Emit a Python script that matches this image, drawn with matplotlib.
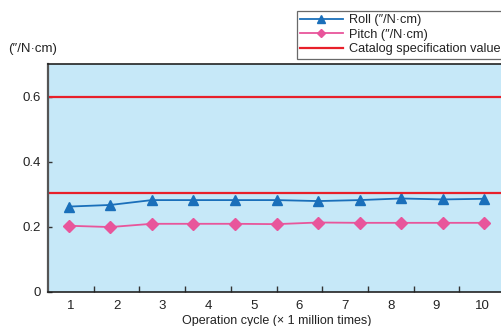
import matplotlib.pyplot as plt
import numpy as np

plt.rcParams['font.family'] = ['Liberation Sans', 'DejaVu Sans']

cycle_labels = ['1', '2', '3', '4', '5', '6', '7', '8', '9', '10']
roll = [0.262, 0.267, 0.282, 0.282, 0.282, 0.282, 0.279, 0.282, 0.287, 0.284, 0.286]
pitch = [0.203, 0.199, 0.209, 0.209, 0.209, 0.208, 0.213, 0.212, 0.212, 0.212, 0.212]
spec_values = [0.6, 0.305]

blue = '#1a6fba'
pink = '#e8559b'
red = '#e8202a'

fig = plt.figure(figsize=(5.01, 3.26), dpi=100)
W, H = 501, 326
ax = fig.add_axes([48 / W, 1 - 291.7 / H, (505 - 48) / W, (291.7 - 64.3) / H])
ax.set_facecolor('#c6e8f8')

x = np.arange(len(roll))
ax.plot(x, roll, color=blue, marker='^', markersize=7.5, linewidth=1.3,
        label='Roll (″/N·cm)')
ax.plot(x, pitch, color=pink, marker='D', markersize=6, linewidth=1.3,
        label='Pitch (″/N·cm)')
for i, v in enumerate(spec_values):
    ax.axhline(v, color=red, linewidth=1.6,
               label='Catalog specification value' if i == 0 else None)

# x range holds the 11 points; category ticks split it into 10 slots
lo, hi = -0.5, len(roll) - 0.5
ax.set_xlim(lo, hi)
step = (hi - lo) / len(cycle_labels)
ax.set_xticks([lo + (k + 1) * step for k in range(len(cycle_labels) - 1)])
ax.set_xticklabels([])
ax.set_xticks([lo + (k + 0.5) * step for k in range(len(cycle_labels))], minor=True)
ax.set_xticklabels(cycle_labels, minor=True)
ax.tick_params(axis='x', which='major', direction='in', length=4, width=1, color='#333333')
ax.tick_params(axis='x', which='minor', length=0, pad=6, labelsize=9.5, labelcolor='#222222')

ax.set_ylim(0, 0.7)
ax.set_yticks([0, 0.2, 0.4, 0.6])
ax.set_yticklabels(['0', '0.2', '0.4', '0.6'])
ax.tick_params(axis='y', direction='in', length=3, width=1, color='#333333',
               pad=5, labelsize=9.5, labelcolor='#222222')

for s in ['top', 'bottom']:
    ax.spines[s].set_color('#222222')
    ax.spines[s].set_linewidth(1.2)
ax.spines['left'].set_color('#555555')
ax.spines['left'].set_linewidth(1.6)
ax.spines['right'].set_visible(False)

ax.set_xlabel('Operation cycle (× 1 million times)', fontsize=9, color='#222222',
              labelpad=2)
fig.text(8 / W, 1 - 49 / H, '(″/N·cm)', fontsize=9.5, color='#222222', va='center', ha='left')

leg = fig.legend(loc='upper left', bbox_to_anchor=(296.5 / W, 1 - 10.5 / H),
                 fontsize=9.2, frameon=True, fancybox=False, borderaxespad=0,
                 handlelength=3.3, handletextpad=0.5, labelspacing=0.2,
                 borderpad=0.3, markerscale=0.75)
leg.get_frame().set_edgecolor('#444444')
leg.get_frame().set_linewidth(0.9)
for t in leg.get_texts():
    t.set_color('#222222')

fig.savefig('out.png', dpi=100)
